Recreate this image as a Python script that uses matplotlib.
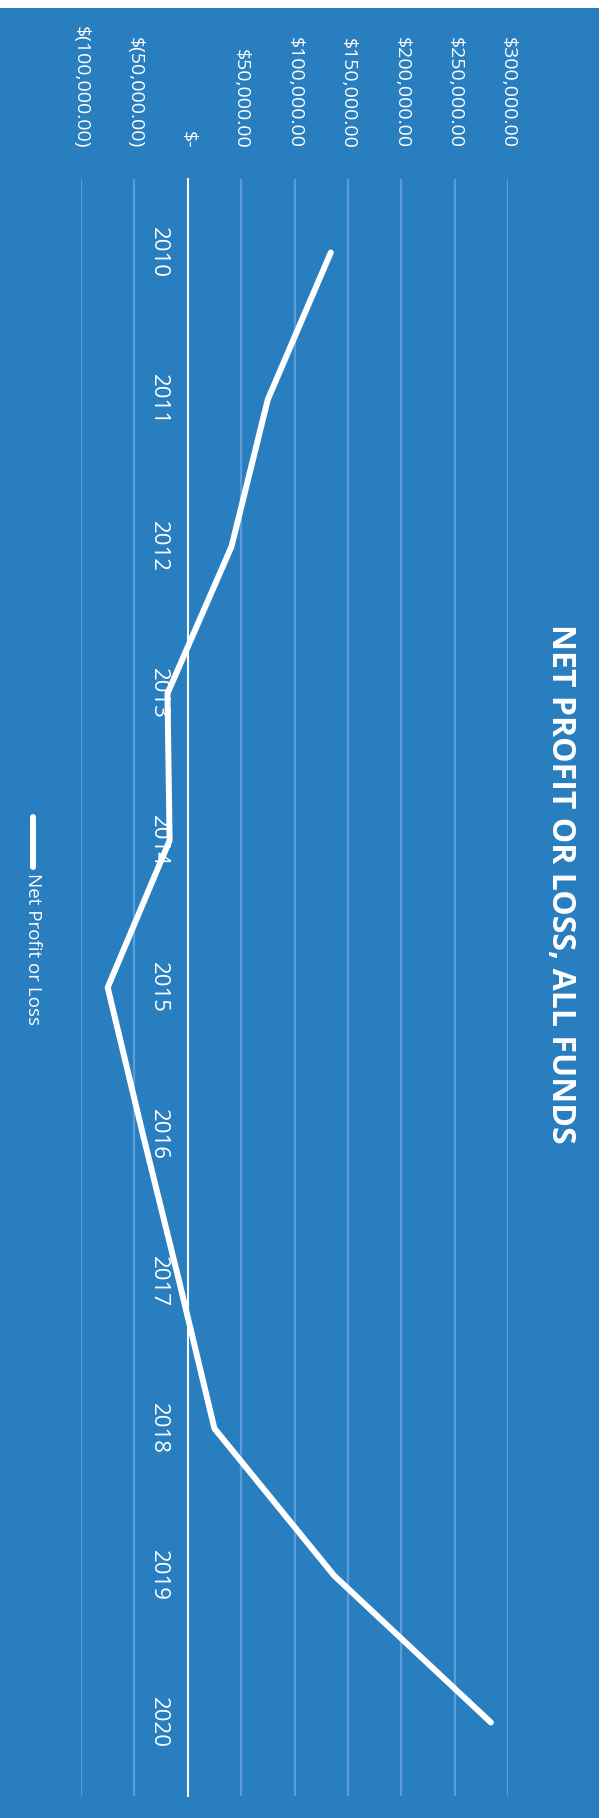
import matplotlib
matplotlib.use("Agg")
import matplotlib.pyplot as plt
from matplotlib.patches import Rectangle
from matplotlib.lines import Line2D

# ---- data ----
years = [2010, 2011, 2012, 2013, 2014, 2015, 2016, 2017, 2018, 2019, 2020]
net_profit = [134000, 75000, 41000, -19000, -17000, -75000, -42000, -8000, 25000, 137000, 284000]
tick_values = [-100000, -50000, 0, 50000, 100000, 150000, 200000, 250000, 300000]
tick_labels = ["$(100,000.00)", "$(50,000.00)", "$-", "$50,000.00", "$100,000.00",
               "$150,000.00", "$200,000.00", "$250,000.00", "$300,000.00"]
title = "NET PROFIT OR LOSS, ALL FUNDS"
series_name = "Net Profit or Loss"

W, H = 611, 1818
BG = "#297EC0"
GRID = "#5C9DD7"
FONT = ["Open Sans", "DejaVu Sans"]
plt.rcParams['font.family'] = FONT

fig = plt.figure(figsize=(W / 100, H / 100), dpi=100)
fig.patch.set_facecolor("white")
fig.add_artist(Rectangle((0, 0), 599 / W, 1810 / H, transform=fig.transFigure,
                         facecolor=BG, edgecolor="none", zorder=-10))

# axes: x = value (horizontal), y = year (downwards)
x0, x1 = 81, 508
y_top, y_bot = 179, 1796
ax = fig.add_axes([x0 / W, (H - y_bot) / H, (x1 - x0) / W, (y_bot - y_top) / H])
ax.set_facecolor("none")
ax.set_xlim(-100000, 300000)
ax.set_ylim(2020.5, 2009.5)

for s in ["top", "right", "bottom"]:
    ax.spines[s].set_visible(False)
ax.spines["left"].set_position(("data", 0))
ax.spines["left"].set_color("white")
ax.spines["left"].set_linewidth(1.4)
ax.spines["left"].set_zorder(2)

ax.set_xticks(tick_values)
ax.set_xticklabels(tick_labels)
ax.xaxis.set_ticks_position("top")
ax.tick_params(axis="x", length=0, pad=22, labelsize=14, labelcolor="white")
for lbl in ax.get_xticklabels():
    lbl.set_rotation(-90)
ax.grid(axis="x", color=GRID, linewidth=1.6, zorder=0)
ax.set_axisbelow(True)

ax.set_yticks(years)
ax.set_yticklabels([str(y) for y in years])
ax.tick_params(axis="y", length=0, pad=13.5, labelsize=16, labelcolor="white")
for lbl in ax.get_yticklabels():
    lbl.set_rotation(-90)
    lbl.set_va("center")

ax.plot(net_profit, years, color="white", linewidth=4.3,
        solid_capstyle="round", solid_joinstyle="round", zorder=3)

# title
fig.text(561 / W, (H - 884) / H, title, rotation=-90, ha="center", va="center",
         color="white", fontsize=23, fontweight="bold")

# legend
fig.add_artist(Line2D([33 / W, 33 / W], [(H - 817) / H, (H - 867) / H],
                      transform=fig.transFigure, color="white", linewidth=4.3,
                      solid_capstyle="round"))
fig.text(33 / W, (H - 873) / H, series_name, rotation=-90, ha="center", va="top",
         color="white", fontsize=13.5)

fig.savefig("out.png", dpi=100, facecolor=fig.get_facecolor())
